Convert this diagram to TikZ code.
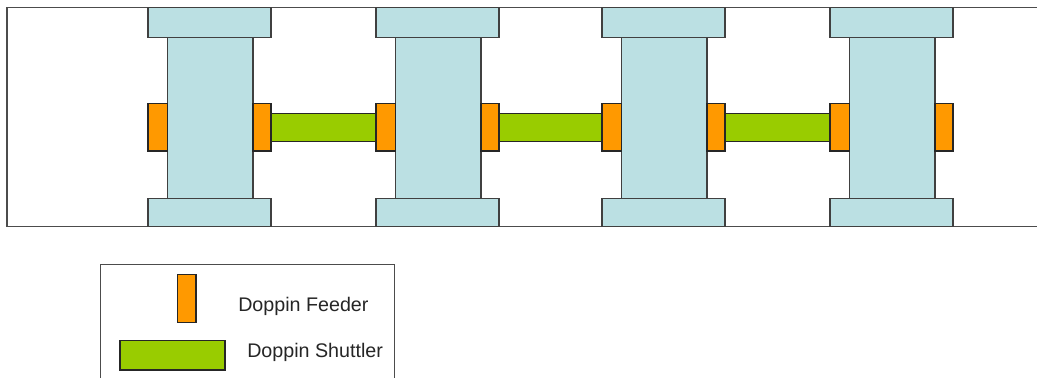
\documentclass[tikz,border=0pt]{standalone}
\usepackage{fontspec}
\setmainfont{Liberation Sans}
\definecolor{spool}{RGB}{187,224,227}
\definecolor{feeder}{RGB}{255,153,0}
\definecolor{shuttler}{RGB}{153,204,0}

\begin{document}
\begin{tikzpicture}[x=0.025cm,y=-0.025cm,line width=0.8pt,
  spool/.style={draw=black!75,fill=spool},
  feed/.style={draw=black!85,fill=feeder},
  shuttle/.style={draw=black!85,fill=shuttler},
  legend/.style={font=\fontsize{14}{16}\selectfont,text=black!85,anchor=base west,inner sep=0pt}]
\clip (0,0) rectangle (1037,377);
\fill[white] (0,0) rectangle (1037,377);
% outer frame, open to the right
\draw[black!70] (1045,7.3)--(7,7.3)--(7,226.7)--(1045,226.7);
% shuttlers between neighbouring units
\foreach \a/\b in {148/376,376/602,602/830}
  \draw[shuttle] (\a+123,113.3) rectangle (\b,141.3);
% the four units
\foreach \x in {148,376,602,830}{
  \draw[spool] (\x+19.5,37.3) rectangle (\x+105,198.7);
  \draw[spool] (\x,7.3) rectangle (\x+123,37.3);
  \draw[spool] (\x,198.7) rectangle (\x+123,226.7);
  \draw[feed] (\x,103.3) rectangle (\x+19.5,151);
  \draw[feed] (\x+105,103.3) rectangle (\x+123,151);
}
% legend
\draw[black!70] (100.7,390)--(100.7,264.3)--(394.3,264.3)--(394.3,390);
\draw[feed] (177.3,274.3) rectangle (196,322.3);
\node[legend] (feedtxt) at (237.7,311) {Doppin Feeder};
\draw[shuttle] (120,340.3) rectangle (225,370);
\node[legend] (shuttletxt) at (246.7,357.7) {Doppin Shuttler};
\end{tikzpicture}
\end{document}
